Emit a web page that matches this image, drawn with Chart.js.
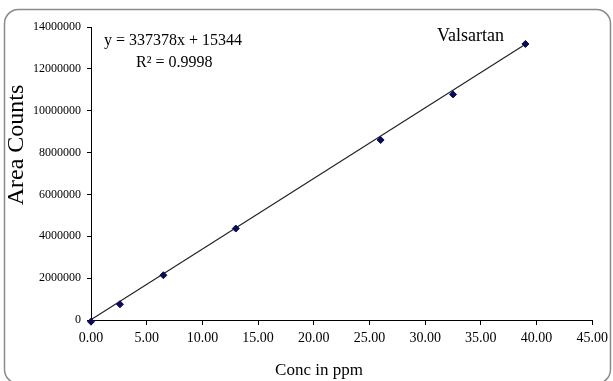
<!DOCTYPE html>
<html>
<head>
<meta charset="utf-8">
<script src="https://cdn.jsdelivr.net/npm/chart.js@4"></script>
<style>
html,body{margin:0;padding:0;background:#fff;}
#wrap{width:613px;height:381px;}
canvas{display:block;}
</style>
</head>
<body>
<div id="wrap"><canvas id="c" width="613" height="381"></canvas></div>
<script>
// ---- data ----
const concentrations = [0, 2.6, 6.5, 13, 26, 32.5, 39];          // Conc in ppm
const areaCounts = [-80000, 750000, 2140000, 4370000, 8600000, 10780000, 13190000];
const trendSlope = 337378;
const trendIntercept = 15344;
const trendRange = [0, 39];
const equationText = 'y = 337378x + 15344';
const r2Text = 'R\u00B2 = 0.9998';
const seriesName = 'Valsartan';
const xTitle = 'Conc in ppm';
const yTitle = 'Area Counts';

const SERIF = '"Liberation Serif", "Times New Roman", serif';

const decorPlugin = {
  id: 'decor',
  beforeDraw(chart) {
    const ctx = chart.ctx;
    ctx.save();
    ctx.fillStyle = '#fff';
    ctx.fillRect(0, 0, chart.width, chart.height);
    ctx.strokeStyle = '#8a8a8a';
    ctx.lineWidth = 1.5;
    ctx.beginPath();
    ctx.roundRect(4.5, 9.5, 606, 374, 14);
    ctx.stroke();
    ctx.restore();
  },
  afterDraw(chart) {
    const ctx = chart.ctx;
    ctx.save();
    ctx.fillStyle = '#000';
    ctx.textBaseline = 'alphabetic';
    ctx.textAlign = 'left';
    ctx.font = '16px ' + SERIF;
    ctx.fillText(equationText, 104, 45);
    ctx.fillText(r2Text, 136, 67);
    ctx.font = '18px ' + SERIF;
    ctx.fillText(seriesName, 437, 41);
    ctx.textAlign = 'center';
    ctx.textBaseline = 'middle';
    ctx.font = '17px ' + SERIF;
    ctx.fillText(xTitle, 319, 371);
    ctx.translate(17, 145);
    ctx.rotate(-Math.PI / 2);
    ctx.font = '24px ' + SERIF;
    ctx.fillText(yTitle, 0, 0);
    ctx.restore();
  }
};

new Chart(document.getElementById('c'), {
  type: 'scatter',
  data: {
    datasets: [
      {
        label: seriesName,
        data: concentrations.map((x, i) => ({ x: x, y: areaCounts[i] })),
        pointStyle: 'rectRot',
        pointRadius: 3.5,
        backgroundColor: '#0b0b5c',
        borderColor: '#0b0b5c',
        borderWidth: 1,
        clip: false,
        order: 0
      },
      {
        label: 'Linear',
        data: trendRange.map(x => ({ x: x, y: trendSlope * x + trendIntercept })),
        showLine: true,
        borderColor: '#222',
        borderWidth: 1.2,
        pointRadius: 0,
        fill: false,
        order: 1
      }
    ]
  },
  options: {
    responsive: false,
    animation: false,
    devicePixelRatio: 1,
    layout: { padding: { top: 27, right: 18, left: 0, bottom: 0 } },
    plugins: { legend: { display: false }, tooltip: { enabled: false } },
    scales: {
      x: {
        type: 'linear',
        min: 0, max: 45,
        ticks: {
          stepSize: 5,
          autoSkip: false,
          maxRotation: 0,
          padding: 5,
          color: '#000',
          font: { family: SERIF, size: 14 },
          callback: v => Number(v).toFixed(2)
        },
        grid: { drawOnChartArea: false, drawTicks: true, tickLength: 5, color: '#000' },
        border: { color: '#000', width: 1 },
        afterFit: s => { s.height = 61; }
      },
      y: {
        type: 'linear',
        min: 0, max: 14000000,
        ticks: {
          stepSize: 2000000,
          autoSkip: false,
          padding: 6,
          color: '#000',
          font: { family: SERIF, size: 12 },
          callback: v => String(v)
        },
        grid: { drawOnChartArea: false, drawTicks: true, tickLength: 4, color: '#000' },
        border: { color: '#000', width: 1 },
        afterFit: s => { s.width = 91; }
      }
    }
  },
  plugins: [decorPlugin]
});
</script>
</body>
</html>
